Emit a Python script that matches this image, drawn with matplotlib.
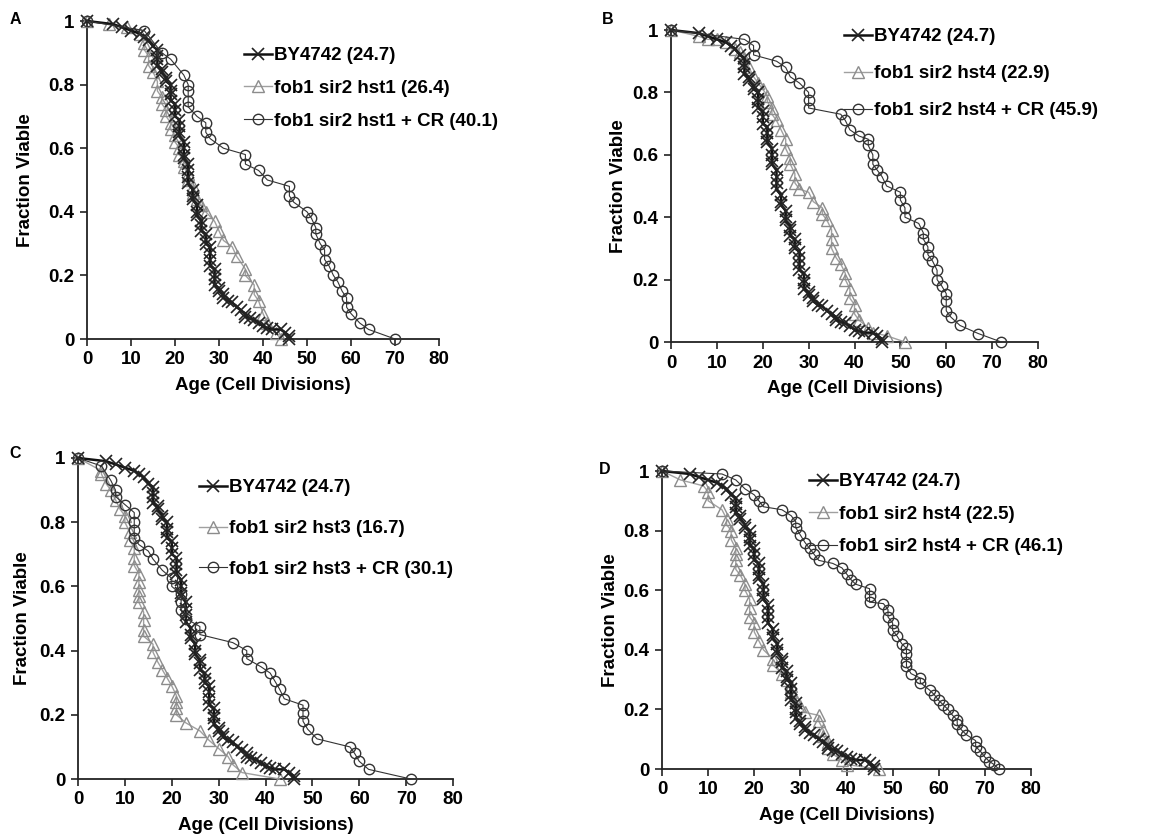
import matplotlib.pyplot as plt

plt.rcParams['font.family'] = ['Liberation Sans', 'DejaVu Sans']
plt.rcParams['font.weight'] = 'bold'
plt.rcParams['axes.labelweight'] = 'bold'

# --- data (age in cell divisions, fraction viable) ---
# wild type BY4742, same cells shown in every panel
by_age = [0, 6, 8, 10, 12, 13, 14, 15, 16, 16, 16, 16, 17, 17, 18, 18, 19, 19, 19, 19,
          20, 20, 20, 21, 21, 21, 21, 22, 22, 22, 22, 23, 23, 23, 23, 24, 24, 24, 25, 25,
          25, 26, 26, 26, 27, 27, 27, 28, 28, 28, 28, 29, 29, 29, 29, 30, 30, 31, 31, 32,
          33, 34, 35, 36, 36, 37, 38, 39, 40, 41, 42, 44, 45, 46, 46]
by_frac = [1.0, 0.99, 0.98, 0.97, 0.96, 0.95, 0.94, 0.92, 0.91, 0.89, 0.88, 0.86, 0.85, 0.84,
           0.82, 0.81, 0.80, 0.78, 0.77, 0.75, 0.74, 0.72, 0.70, 0.69, 0.67, 0.65, 0.64, 0.62,
           0.60, 0.58, 0.57, 0.55, 0.53, 0.51, 0.49, 0.47, 0.45, 0.44, 0.42, 0.40, 0.39, 0.37,
           0.36, 0.34, 0.33, 0.31, 0.30, 0.29, 0.27, 0.25, 0.23, 0.22, 0.20, 0.19, 0.17, 0.16,
           0.15, 0.14, 0.13, 0.12, 0.115, 0.10, 0.09, 0.08, 0.07, 0.065, 0.06, 0.05, 0.04,
           0.035, 0.03, 0.03, 0.02, 0.01, 0.0]

# A: fob1 sir2 hst1
a_mut_age = [0, 5, 9, 12, 13, 13, 14, 14, 15, 16, 16, 17, 17, 18, 18, 19, 19, 20, 20, 21, 21,
             22, 22, 23, 23, 24, 24, 25, 26, 27, 29, 30, 31, 33, 34, 36, 36, 38, 38, 39, 40,
             41, 43, 44]
a_mut_frac = [1.0, 0.99, 0.98, 0.96, 0.93, 0.91, 0.89, 0.86, 0.84, 0.81, 0.78, 0.76, 0.74,
              0.72, 0.70, 0.68, 0.66, 0.64, 0.62, 0.60, 0.58, 0.56, 0.54, 0.52, 0.50, 0.48,
              0.46, 0.44, 0.42, 0.40, 0.37, 0.34, 0.31, 0.29, 0.26, 0.22, 0.20, 0.17, 0.14,
              0.12, 0.08, 0.05, 0.02, 0.0]
a_cr_age = [0, 13, 17, 19, 22, 23, 23, 23, 23, 25, 27, 27, 28, 31, 36, 36, 39, 41, 46, 46,
            47, 50, 51, 52, 52, 53, 54, 54, 55, 56, 57, 58, 59, 59, 60, 62, 64, 70]
a_cr_frac = [1.0, 0.97, 0.90, 0.88, 0.83, 0.80, 0.78, 0.75, 0.73, 0.70, 0.68, 0.65, 0.63,
             0.60, 0.58, 0.55, 0.53, 0.50, 0.48, 0.45, 0.43, 0.40, 0.38, 0.35, 0.33, 0.30,
             0.28, 0.25, 0.23, 0.20, 0.18, 0.15, 0.13, 0.10, 0.08, 0.05, 0.03, 0.0]

# B: fob1 sir2 hst4
b_mut_age = [0, 6, 8, 10, 12, 14, 15, 16, 17, 18, 19, 20, 21, 21, 22, 22, 23, 24, 25, 25,
             26, 26, 27, 27, 28, 30, 31, 33, 33, 34, 35, 35, 35, 36, 37, 38, 38, 39, 39, 40,
             40, 41, 43, 44, 47, 51]
b_mut_frac = [1.0, 0.98, 0.97, 0.97, 0.96, 0.94, 0.93, 0.91, 0.88, 0.85, 0.83, 0.81, 0.79,
              0.77, 0.75, 0.73, 0.71, 0.68, 0.65, 0.62, 0.59, 0.57, 0.54, 0.51, 0.49, 0.48,
              0.45, 0.43, 0.41, 0.39, 0.36, 0.33, 0.30, 0.27, 0.25, 0.22, 0.20, 0.17, 0.14,
              0.12, 0.09, 0.07, 0.045, 0.03, 0.02, 0.0]
b_cr_age = [0, 16, 18, 18, 23, 25, 26, 28, 30, 30, 30, 37, 38, 39, 41, 43, 43, 44, 44, 45,
            46, 47, 50, 50, 51, 51, 54, 55, 55, 56, 56, 57, 58, 58, 59, 60, 60, 60, 61, 63,
            67, 72]
b_cr_frac = [1.0, 0.97, 0.95, 0.92, 0.90, 0.88, 0.85, 0.83, 0.80, 0.775, 0.75, 0.73, 0.71,
             0.68, 0.66, 0.65, 0.63, 0.60, 0.57, 0.55, 0.53, 0.50, 0.48, 0.455, 0.43, 0.40,
             0.38, 0.35, 0.33, 0.305, 0.28, 0.26, 0.23, 0.20, 0.18, 0.155, 0.13, 0.10, 0.08,
             0.053, 0.027, 0.0]

# C: fob1 sir2 hst3
c_mut_age = [0, 5, 5, 6, 7, 8, 9, 10, 10, 11, 11, 12, 12, 12, 13, 13, 13, 13, 13, 14, 14,
             14, 14, 16, 16, 17, 18, 19, 20, 21, 21, 21, 21, 23, 26, 28, 30, 32, 33, 35, 43]
c_mut_frac = [1.0, 0.96, 0.95, 0.92, 0.90, 0.87, 0.84, 0.82, 0.80, 0.77, 0.745, 0.72, 0.69,
              0.665, 0.64, 0.615, 0.59, 0.57, 0.55, 0.52, 0.495, 0.465, 0.445, 0.42, 0.395,
              0.365, 0.34, 0.315, 0.29, 0.26, 0.24, 0.22, 0.20, 0.175, 0.15, 0.12, 0.095,
              0.07, 0.045, 0.02, 0.0]
c_cr_age = [0, 5, 7, 8, 8, 10, 12, 12, 12, 12, 13, 15, 16, 18, 20, 20, 22, 22, 22, 23, 26,
            26, 33, 36, 36, 39, 41, 42, 43, 44, 48, 48, 48, 49, 51, 58, 59, 60, 62, 71]
c_cr_frac = [1.0, 0.975, 0.93, 0.90, 0.88, 0.855, 0.83, 0.80, 0.775, 0.75, 0.73, 0.71, 0.685,
             0.65, 0.625, 0.60, 0.575, 0.55, 0.525, 0.50, 0.475, 0.45, 0.425, 0.40, 0.375,
             0.35, 0.33, 0.305, 0.28, 0.25, 0.23, 0.205, 0.18, 0.155, 0.125, 0.10, 0.08,
             0.055, 0.03, 0.0]

# D: fob1 sir2 hst4 (second experiment)
d_mut_age = [0, 4, 9, 10, 10, 13, 14, 14, 15, 15, 16, 16, 16, 16, 17, 18, 18, 19, 19, 19,
             20, 20, 21, 22, 24, 24, 26, 27, 28, 28, 29, 30, 31, 34, 34, 35, 35, 36, 36, 37,
             39, 40, 47]
d_mut_frac = [1.0, 0.97, 0.95, 0.93, 0.90, 0.87, 0.84, 0.82, 0.80, 0.77, 0.74, 0.72, 0.70,
              0.67, 0.65, 0.62, 0.60, 0.57, 0.54, 0.51, 0.49, 0.46, 0.43, 0.40, 0.37, 0.35,
              0.32, 0.30, 0.28, 0.26, 0.23, 0.21, 0.19, 0.18, 0.16, 0.13, 0.11, 0.09, 0.07,
              0.05, 0.03, 0.015, 0.0]
d_cr_age = [0, 13, 16, 18, 20, 21, 22, 26, 28, 29, 29, 30, 31, 32, 33, 34, 37, 39, 40, 41,
            42, 45, 45, 45, 48, 49, 49, 50, 50, 51, 52, 53, 53, 53, 53, 54, 56, 56, 58, 59,
            60, 61, 62, 63, 64, 64, 65, 66, 68, 68, 69, 70, 71, 72, 73]
d_cr_frac = [1.0, 0.99, 0.97, 0.94, 0.92, 0.90, 0.88, 0.87, 0.85, 0.83, 0.81, 0.785, 0.76,
             0.74, 0.72, 0.70, 0.69, 0.675, 0.655, 0.635, 0.62, 0.605, 0.58, 0.56, 0.555,
             0.535, 0.51, 0.49, 0.465, 0.445, 0.42, 0.405, 0.385, 0.36, 0.345, 0.32, 0.305,
             0.29, 0.265, 0.25, 0.23, 0.215, 0.20, 0.18, 0.165, 0.15, 0.13, 0.115, 0.095,
             0.075, 0.06, 0.04, 0.025, 0.015, 0.0]

x_ticks = [0, 10, 20, 30, 40, 50, 60, 70, 80]
y_ticks = [0, 0.2, 0.4, 0.6, 0.8, 1]
y_tick_labels = ['0', '0.2', '0.4', '0.6', '0.8', '1']

W, H = 1149, 836
fig = plt.figure(figsize=(W / 100, H / 100), dpi=100)
FS = 13.5


def panel(box, letter, letter_pos, mut, cr, labels, leg_pos, leg_space, ypad):
    left, right, top, bottom = box
    ax = fig.add_axes([left / W, 1 - bottom / H, (right - left) / W, (bottom - top) / H])
    # mutant (grey triangles)
    l2, = ax.plot(mut[0], mut[1], color='#a0a0a0', lw=1.0, marker='^', ms=8,
                  mfc='none', mec='#8c8c8c', mew=1.0, clip_on=False, zorder=3)
    # wild type
    l1, = ax.plot(by_age, by_frac, color='#111111', lw=1.8, marker='x', ms=8,
                  mec='#222222', mew=1.2, clip_on=False, zorder=4)
    # mutant + CR (circles)
    l3, = ax.plot(cr[0], cr[1], color='#333333', lw=0.8, marker='o', ms=7.5,
                  mfc='none', mec='#333333', mew=1.0, clip_on=False, zorder=5)
    ax.set_xlim(0, 80)
    ax.set_ylim(0, 1)
    ax.set_xticks(x_ticks)
    ax.set_yticks(y_ticks)
    ax.set_yticklabels(y_tick_labels)
    for s in ['top', 'right']:
        ax.spines[s].set_visible(False)
    for s in ['left', 'bottom']:
        ax.spines[s].set_linewidth(1.3)
        ax.spines[s].set_color('#222222')
    ax.tick_params(labelsize=FS, width=1.2, length=5, direction='out', pad=4,
                   color='#222222')
    ax.set_xlabel('Age (Cell Divisions)', fontsize=FS, labelpad=6)
    ax.set_ylabel('Fraction Viable', fontsize=FS, labelpad=ypad)
    ax.legend([l1, l2, l3], labels, loc='upper left',
              bbox_to_anchor=(leg_pos[0] / W, 1 - leg_pos[1] / H),
              bbox_transform=fig.transFigure, frameon=False, fontsize=FS,
              borderpad=0, borderaxespad=0, handlelength=1.5, handletextpad=0.1,
              labelspacing=leg_space, numpoints=1)
    fig.text(letter_pos[0] / W, 1 - letter_pos[1] / H, letter, fontsize=11.5,
             fontweight='bold', ha='center', va='center')
    return ax


panel((87, 439, 21, 339), 'A', (15, 20), (a_mut_age, a_mut_frac), (a_cr_age, a_cr_frac),
      ['BY4742 (24.7)', 'fob1 sir2 hst1 (26.4)', 'fob1 sir2 hst1 + CR (40.1)'],
      (244, 47), 0.84, 10)
panel((671, 1038, 30, 342), 'B', (608, 20), (b_mut_age, b_mut_frac), (b_cr_age, b_cr_frac),
      ['BY4742 (24.7)', 'fob1 sir2 hst4 (22.9)', 'fob1 sir2 hst4 + CR (45.9)'],
      (844, 28), 1.06, 4)
panel((78, 453, 458, 779), 'C', (15, 453), (c_mut_age, c_mut_frac), (c_cr_age, c_cr_frac),
      ['BY4742 (24.7)', 'fob1 sir2 hst3 (16.7)', 'fob1 sir2 hst3 + CR (30.1)'],
      (199, 479), 1.27, 6)
panel((662, 1031, 471, 769), 'D', (605, 470), (d_mut_age, d_mut_frac), (d_cr_age, d_cr_frac),
      ['BY4742 (24.7)', 'fob1 sir2 hst4 (22.5)', 'fob1 sir2 hst4 + CR (46.1)'],
      (809, 473), 0.82, 3)

fig.savefig('out.png', dpi=100)
